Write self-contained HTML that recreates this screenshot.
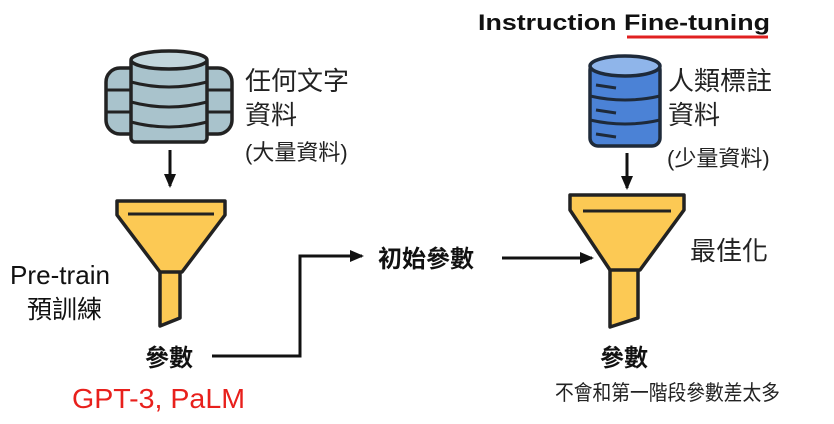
<!DOCTYPE html>
<html><head><meta charset="utf-8"><style>
html,body{margin:0;padding:0;background:#fff;}
svg{display:block;}
text{font-family:"Liberation Sans","Noto Sans CJK TC",sans-serif;}
</style></head><body>
<svg width="834" height="424" viewBox="0 0 834 424" xmlns="http://www.w3.org/2000/svg">
<defs>
<marker id="ah" markerWidth="14" markerHeight="12" refX="12" refY="6" orient="auto" markerUnits="userSpaceOnUse">
<path d="M0,0 L14,6 L0,12 z" fill="#111"/></marker>
</defs>
<!-- title -->
<text x="478" y="30" font-size="22" font-weight="bold" fill="#111" textLength="292" lengthAdjust="spacingAndGlyphs">Instruction Fine-tuning</text>
<line x1="627" y1="37" x2="768" y2="37" stroke="#e02020" stroke-width="3"/>

<!-- left database -->
<g stroke="#222" stroke-width="3.5" fill="#a9c3cc">
<rect x="106" y="68" width="126" height="66" rx="14"/>
<rect x="131" y="58" width="76" height="84" rx="4"/>
<ellipse cx="169" cy="60" rx="38" ry="9" fill="#c3d6dc"/>
</g>
<g stroke="#222" stroke-width="3" fill="none">
<path d="M131 82 Q169 92 207 82"/><path d="M131 102 Q169 112 207 102"/><path d="M131 122 Q169 132 207 122"/>
<line x1="106" y1="90" x2="131" y2="90"/><line x1="207" y1="90" x2="232" y2="90"/>
<line x1="106" y1="112" x2="131" y2="112"/><line x1="207" y1="112" x2="232" y2="112"/>
</g>
<text x="245" y="90" font-size="26" fill="#222">任何文字</text>
<text x="245" y="124" font-size="26" fill="#222">資料</text>
<text x="245" y="160" font-size="22" fill="#222">(大量資料)</text>
<line x1="170" y1="150" x2="170" y2="186" stroke="#111" stroke-width="3" marker-end="url(#ah)"/>

<!-- left funnel -->
<g stroke="#222" stroke-width="3.5" stroke-linejoin="round" fill="#fcc954">
<path d="M160 270 L180 270 L180 318 L160 326 z"/>
<path d="M117 201 L225 201 L225 215 L182 272 L160 272 L117 215 z"/>
</g>
<line x1="128" y1="214" x2="214" y2="214" stroke="#222" stroke-width="3"/>
<text x="10" y="284" font-size="26" fill="#111" textLength="100" lengthAdjust="spacingAndGlyphs">Pre-train</text>
<text x="27" y="318" font-size="25" fill="#111">預訓練</text>
<text x="145" y="366" font-size="24" font-weight="bold" fill="#111">參數</text>
<text x="72" y="408" font-size="28" fill="#e8201c" textLength="173" lengthAdjust="spacingAndGlyphs">GPT-3, PaLM</text>

<!-- connector -->
<polyline points="212,356 300,356 300,256 362,256" fill="none" stroke="#111" stroke-width="3" marker-end="url(#ah)"/>
<text x="378" y="267" font-size="24" font-weight="bold" fill="#111">初始參數</text>
<line x1="502" y1="258" x2="592" y2="258" stroke="#111" stroke-width="3" marker-end="url(#ah)"/>

<!-- right database -->
<g stroke="#1e2a3a" stroke-width="3.5" fill="#4b82d6">
<rect x="590" y="62" width="70" height="84" rx="8"/>
<ellipse cx="625" cy="66" rx="35" ry="10" fill="#8fb5ea"/>
</g>
<g stroke="#1e2a3a" stroke-width="3" fill="none">
<path d="M590 96 Q625 104 660 96"/><path d="M590 120 Q625 128 660 120"/>
<line x1="596" y1="85" x2="616" y2="88"/><line x1="596" y1="110" x2="616" y2="113"/><line x1="596" y1="134" x2="616" y2="137"/>
</g>
<text x="668" y="90" font-size="26" fill="#222">人類標註</text>
<text x="668" y="124" font-size="26" fill="#222">資料</text>
<text x="667" y="166" font-size="22" fill="#222">(少量資料)</text>
<line x1="627" y1="153" x2="627" y2="188" stroke="#111" stroke-width="3" marker-end="url(#ah)"/>

<!-- right funnel -->
<g stroke="#222" stroke-width="3.5" stroke-linejoin="round" fill="#fcc954">
<path d="M610 268 L638 268 L638 318 L610 327 z"/>
<path d="M570 195 L684 195 L684 210 L640 270 L610 270 L570 210 z"/>
</g>
<line x1="583" y1="211" x2="671" y2="211" stroke="#222" stroke-width="3"/>
<text x="690" y="260" font-size="26" fill="#222">最佳化</text>
<text x="600" y="366" font-size="24" font-weight="bold" fill="#111">參數</text>
<text x="555" y="400" font-size="21" fill="#222" textLength="225" lengthAdjust="spacingAndGlyphs">不會和第一階段參數差太多</text>
</svg>
</body></html>
